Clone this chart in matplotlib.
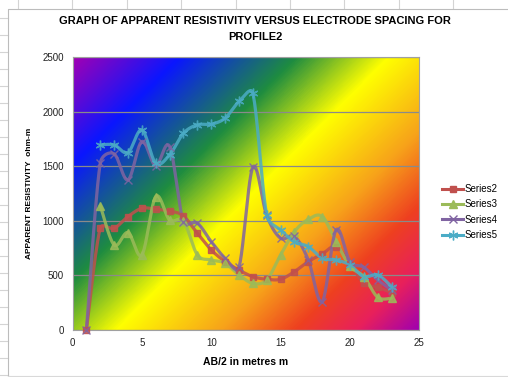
import numpy as np
import matplotlib
matplotlib.use('Agg')
import matplotlib.pyplot as plt
from matplotlib.colors import LinearSegmentedColormap
from matplotlib.lines import Line2D

# data
x_s2 = [1, 2, 3, 4, 5, 6, 7, 8, 9, 10, 11, 12, 13, 14, 15, 16, 17, 18, 19, 20, 21, 22, 23]
series2 = [0, 933, 933, 1040, 1116, 1107, 1092, 1045, 887, 734, 627, 550, 489, 465, 465, 535, 627, 697, 765, 605, 428, 392, 343]

x_s3 = [2, 3, 4, 5, 6, 7, 8, 9, 10, 11, 12, 13, 14, 15, 16, 17, 18, 19, 20, 21, 22, 23]
series3 = [1140, 780, 893, 688, 1223, 1009, 1000, 688, 642, 612, 505, 428, 459, 688, 902, 1015, 1040, 810, 587, 489, 300, 291]

x_s4 = [1, 2, 3, 4, 5, 6, 7, 8, 9, 10, 11, 12, 13, 14, 15, 16, 17, 18, 19, 20, 21, 22, 23]
series4 = [0, 1529, 1615, 1376, 1728, 1505, 1682, 990, 979, 810, 658, 575, 1493, 1050, 841, 858, 642, 260, 917, 627, 575, 459, 367]

x_s5 = [2, 3, 4, 5, 6, 7, 8, 9, 10, 11, 12, 13, 14, 15, 16, 17, 18, 19, 20, 21, 22, 23]
series5 = [1697, 1697, 1627, 1835, 1529, 1606, 1804, 1881, 1887, 1942, 2095, 2171, 1055, 917, 810, 765, 658, 642, 596, 489, 505, 398]

title = 'GRAPH OF APPARENT RESISTIVITY VERSUS ELECTRODE SPACING FOR\nPROFILE2'
xlabel = 'AB/2 in metres m'
ylabel = 'APPARENT RESISTIVITY  ohm-m'

XPX = 346.8 / 25     # pixels per x unit, used to judge the curve tension
YPX = 272.7 / 2500


def smooth(xs, ys, n=24):
    # bezier smoothing the way excel draws a "smoothed line"
    P = np.column_stack([np.asarray(xs, float) * XPX, np.asarray(ys, float) * YPX])
    P = np.vstack([P[0], P, P[-1]])
    t = np.linspace(0, 1, n)[:, None]
    out = []
    for i in range(1, len(P) - 2):
        p0, p1, p2, p3 = P[i - 1], P[i], P[i + 1], P[i + 2]
        d02 = np.hypot(*(p2 - p0))
        d12 = np.hypot(*(p2 - p1))
        d13 = np.hypot(*(p3 - p1))
        f1 = 1 / 6 if d02 / 6 < d12 / 2 else d12 / d02 / 2
        f2 = 1 / 6 if d13 / 6 < d12 / 2 else d12 / d13 / 2
        c1 = p1 + (p2 - p0) * f1
        c2 = p2 - (p3 - p1) * f2
        out.append((1 - t) ** 3 * p1 + 3 * (1 - t) ** 2 * t * c1 + 3 * (1 - t) * t ** 2 * c2 + t ** 3 * p2)
    out = np.vstack(out)
    return out[:, 0] / XPX, out[:, 1] / YPX


plt.rcParams['font.family'] = ['Liberation Sans', 'DejaVu Sans']

fig = plt.figure(figsize=(5.08, 3.77), dpi=100)

# spreadsheet cells behind the chart
for i in range(9):
    fig.add_artist(Line2D([(18 + 54.4 * i) / 508] * 2, [1, 1 - 8 / 377], color='#d4d4d4', lw=0.8))
for i in range(22):
    y = 1 - (18 + 17 * i) / 377
    fig.add_artist(Line2D([0, 8 / 508], [y, y], color='#d4d4d4', lw=0.8))
fig.add_artist(Line2D([8 / 508, 8 / 508, 1], [1 / 377, 1 - 9 / 377, 1 - 9 / 377], color='#bcbcbc', lw=0.8))
fig.add_artist(Line2D([8 / 508, 1], [1.5 / 377, 1.5 / 377], color='#d9d9d9', lw=0.8))

ax = fig.add_axes([72.5 / 508, 1 - 330 / 377, 346.8 / 508, 272.7 / 377])

cmap = LinearSegmentedColormap.from_list('rainbow_fill', [
    (0.0, '#a000b4'), (0.17, '#0a16ff'), (0.36, '#1e8c40'), (0.51, '#ffff00'),
    (0.68, '#f7a21a'), (0.80, '#ee4020'), (0.90, '#e8205c'), (1.0, '#a000b0')])
u, v = np.meshgrid(np.linspace(0, 1, 350), np.linspace(0, 1, 280))
ax.imshow((u * 346.8 + v * 272.7) / (346.8 + 272.7), cmap=cmap, vmin=0, vmax=1,
          extent=[0, 1, 0, 1], transform=ax.transAxes,
          aspect='auto', origin='upper', zorder=0, interpolation='bilinear')

ax.set_xlim(0, 25)
ax.set_ylim(0, 2500)
ax.set_xticks(range(0, 26, 5))
ax.set_yticks(range(0, 2501, 500))
ax.grid(axis='y', color='#8a8a8a', lw=0.9, zorder=1)
ax.tick_params(length=0, labelsize=7, pad=6, colors='#222222')
for s in ax.spines.values():
    s.set_color('#a0a0a0')
    s.set_linewidth(0.8)

series = [
    (x_s2, series2, '#c0504d', 's', 5, 'Series2'),
    (x_s3, series3, '#9bbb59', '^', 6, 'Series3'),
    (x_s4, series4, '#8064a2', 'x', 6, 'Series4'),
    (x_s5, series5, '#4bacc6', (6, 2, 0), 7, 'Series5'),
]
handles = []
for xs, ys, col, mk, ms, name in series:
    sx, sy = smooth(xs, ys)
    ax.plot(sx, sy, color=col, lw=2.3, alpha=0.85, zorder=3, solid_capstyle='round', clip_on=False)
    ax.plot(xs, ys, ls='none', marker=mk, ms=ms, color=col, mec=col, mew=1.0, alpha=0.85, zorder=4, clip_on=False)
    handles.append(Line2D([], [], color=col, lw=2.2, marker=mk, ms=ms, mew=1.0, label=name))

ax.set_xlabel(xlabel, fontsize=7.5, fontweight='bold', labelpad=6)
ax.set_ylabel(ylabel, fontsize=6, fontweight='bold', labelpad=7)
fig.text(255 / 508, 1 - 29 / 377, title, ha='center', va='center', fontsize=8, fontweight='bold',
         linespacing=1.75)

fig.legend(handles=handles, loc='center left', bbox_to_anchor=(438 / 508, 1 - 212 / 377),
           frameon=False, fontsize=7, handlelength=2.2, handletextpad=0.1, labelspacing=0.55,
           borderaxespad=0)

fig.savefig('out.png', dpi=100)
